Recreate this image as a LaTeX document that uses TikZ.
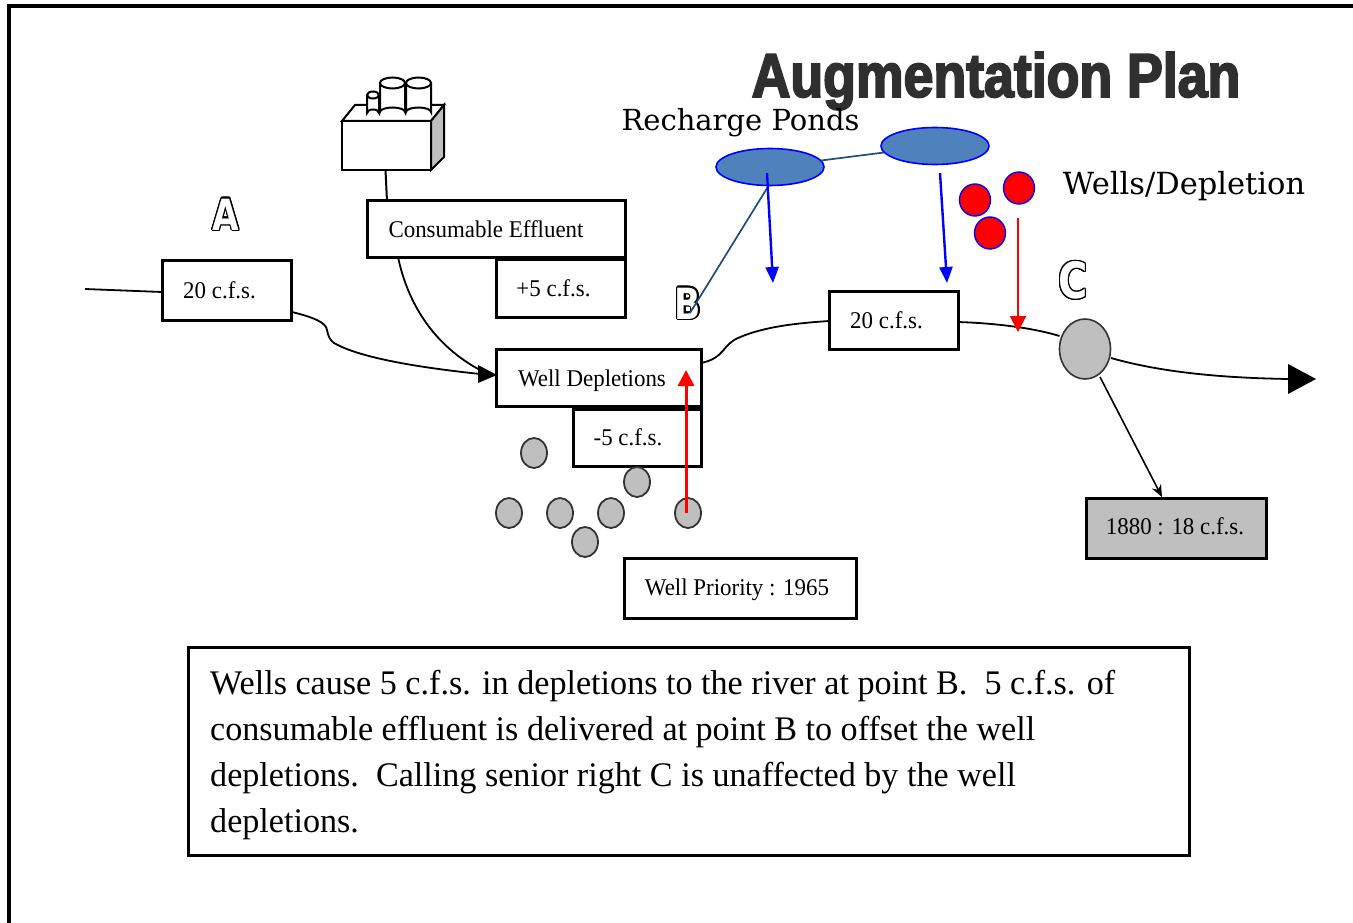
\documentclass[tikz,border=0pt]{standalone}
\usepackage{fontspec}
\usepackage[copies]{contour}
\setmainfont{Liberation Serif}
\newfontfamily\boxfont[FakeStretch=0.955]{Liberation Serif}
\newfontfamily\notefont[FakeStretch=0.989]{Liberation Serif}
\newfontfamily\titlefont[FakeBold=3,FakeStretch=0.865]{Liberation Sans Bold}
\newfontfamily\slabfont{DejaVu Serif}
\newfontfamily\markfont[FakeStretch=0.8]{DejaVu Sans Bold}
\usetikzlibrary{arrows.meta,shapes.geometric}
\definecolor{frameblack}{HTML}{000000}
\definecolor{wellgrey}{HTML}{BFBFBF}
\definecolor{pondblue}{HTML}{4F81BD}
\definecolor{linkblue}{HTML}{1F4E79}
\definecolor{titlegrey}{HTML}{2F2F2F}
\contourlength{1.2pt}
\tikzset{
  x=1pt,y=-1pt,
  box/.style={draw=black,line width=3pt,fill=white,inner sep=0pt,outer sep=0pt,font=\boxfont\fontsize{24}{28}\selectfont},
  gwell/.style={ellipse,draw=black!80,line width=1.8pt,fill=wellgrey,minimum width=26pt,minimum height=30pt,inner sep=0pt,outer sep=0pt},
  rwell/.style={ellipse,draw=blue,line width=1.4pt,fill=red,minimum width=31pt,minimum height=32pt,inner sep=0pt,outer sep=0pt},
  pond/.style={ellipse,draw=blue,line width=1.6pt,fill=pondblue,minimum width=108pt,minimum height=37pt,inner sep=0pt,outer sep=0pt},
  river/.style={draw=black,line width=1.8pt},
  blueflow/.style={draw=blue,line width=2.4pt,-{Triangle[length=16pt,width=13pt]}},
  redflow/.style={draw=red,line width=2.4pt,-{Triangle[length=16pt,width=16pt]}},
  link/.style={draw=linkblue,line width=1.7pt},
  letter/.style={inner sep=0pt,font=\markfont\fontsize{43}{46}\selectfont},
  slab/.style={inner sep=0pt,font=\slabfont\fontsize{29}{32}\selectfont},
  tank/.style={draw=black,line width=2pt,fill=white}
}
\begin{document}
\begin{tikzpicture}
\useasboundingbox (0,0) rectangle (1353,923);
% frame
\coordinate (fbl) at (8.5,923);
\coordinate (ftl) at (8.5,6);
\coordinate (ftr) at (1353,6);
\draw[frameblack,line width=4pt] (fbl) -- (ftl) -- (ftr);
% title
\node[inner sep=0pt,text=titlegrey,font=\titlefont\fontsize{62}{64}\selectfont] (title) at (996,81) {Augmentation Plan};
\node[slab] (recharge) at (740.5,123) {Recharge Ponds};
\node[slab,font=\slabfont\fontsize{30.5}{32}\selectfont] (wellslabel) at (1184,186) {Wells/Depletion};
% plant
\draw[line width=2pt,fill=white] (342,121) -- (355,105) -- (444,105) -- (431,121) -- cycle;
\draw[line width=2pt,fill=wellgrey] (431,121) -- (444,105) -- (444,157) -- (431,170) -- cycle;
\node[draw=black,line width=2pt,fill=white,minimum width=89pt,minimum height=49pt,inner sep=0pt,outer sep=0pt] (plant) at (386.5,145.5) {};
\draw[tank] (367,95) -- (367,113) arc[start angle=180,end angle=360,x radius=6,y radius=3.5] -- (379,95);
\draw[tank] (373,95) ellipse[x radius=6,y radius=3.5];
\draw[tank] (380,83) -- (380,112) arc[start angle=180,end angle=360,x radius=12.5,y radius=4.5] -- (405,83);
\draw[tank] (392.5,83) ellipse[x radius=12.5,y radius=5.5];
\draw[tank] (406,83) -- (406,112) arc[start angle=180,end angle=360,x radius=12.5,y radius=4.5] -- (431,83);
\draw[tank] (418.5,83) ellipse[x radius=12.5,y radius=5.5];
% boxes
\node[box,minimum width=129pt,minimum height=60pt] (boxA) at (226.5,290) {20 c.f.s.\hspace*{14pt}};
\node[box,minimum width=258pt,minimum height=56pt] (effluent) at (496,229) {Consumable Effluent\hspace*{20pt}};
\node[box,minimum width=129pt,minimum height=58pt] (plus) at (560.5,288) {+5 c.f.s.\hspace*{14pt}};
\node[box,text height=22pt,text depth=5pt,minimum width=205pt,minimum height=57pt] (depl) at (598.5,377.5) {Well Depletions\hspace*{13pt}};
\node[box,minimum width=128pt,minimum height=57pt] (minus) at (637,437.5) {-5 c.f.s.\hspace*{18pt}};
\node[box,minimum width=129pt,minimum height=58pt] (boxB) at (893.5,320) {20 c.f.s.\hspace*{14pt}};
\node[box,text height=20.5pt,text depth=5pt,minimum width=232pt,minimum height=60pt] (prio) at (740,588) {Well Priority : 1965\hspace*{6pt}};
\node[box,text height=16pt,text depth=3pt,fill=wellgrey,minimum width=180pt,minimum height=60pt] (senior) at (1176,528) {1880 : 18 c.f.s.\hspace*{2pt}};
\node[box,minimum width=1001pt,minimum height=208pt,anchor=north west] (note) at (188,647) {};
\node[inner sep=0pt,anchor=west,align=left,font=\notefont\fontsize{34.5}{45.8}\selectfont] (notetext) at (210,755) {Wells cause 5 c.f.s. in depletions to the river at point B.\ \ 5 c.f.s. of\\consumable effluent is delivered at point B to offset the well\\depletions.\ \ Calling senior right C is unaffected by the well\\depletions.};
% letters
\node[letter] (lA) at (226,215) {\contour{black}{\textcolor{white}{A}}};
\node[letter] (lB) at (688,304) {\contour{black}{\textcolor{white}{B}}};
\node[letter,font=\markfont\fontsize{50}{52}\selectfont] (lC) at (1073,281) {\contour{black}{\textcolor{white}{C}}};
% wells
\node[gwell] (g1) at (534,453) {};
\node[gwell] (g2) at (509,513) {};
\node[gwell] (g3) at (560,513) {};
\node[gwell] (g4) at (611,513) {};
\node[gwell] (g5) at (637,482) {};
\node[gwell] (g6) at (585,542) {};
\node[gwell] (g7) at (688,513) {};
% point C
\node[ellipse,draw=black!80,line width=1.6pt,fill=wellgrey,minimum width=51pt,minimum height=60pt,inner sep=0pt,outer sep=0pt] (pC) at (1085,349) {};
% ponds, red wells
\node[pond] (p1) at (770,167) {};
\node[pond] (p2) at (935,146) {};
\node[rwell] (r1) at (975,200) {};
\node[rwell] (r2) at (1019,188) {};
\node[rwell] (r3) at (990,233) {};
% river
\coordinate (start) at (85,289);
\coordinate (endA) at (1316,379);
\coordinate (bdrop) at (773,283);
\coordinate (cdrop) at (947,283);
\coordinate (rdrop) at (1018,332);
\coordinate (wup) at (686,370);
\coordinate (rstart) at (1018,218);
\coordinate (b1start) at (767,173);
\coordinate (b2start) at (940,173);
\coordinate (bmark) at (690,313);
\coordinate (deplw) at (490,375);
\draw[river] (start) -- (boxA.west |- 0,292);
\draw[river] (292,312) .. controls (312,317) and (326,322) .. (327,330) .. controls (328,336) and (330,340) .. (334,343) .. controls (360,358) and (420,368) .. (deplw);
\draw[river] (398,257) .. controls (405,290) and (425,345) .. (deplw);
\fill[black] (497,375) -- (478,365) -- (478,383) -- cycle;
\draw[line width=2pt] (plant.south) ++(-1,0) -- (387,201);
\draw[river] (depl.east |- 0,363) .. controls (725,358) and (722,345) .. (738,338) .. controls (765,326) and (800,323) .. (boxB.west |- 0,321);
\draw[river] (boxB.east |- 0,322) .. controls (990,323) and (1030,327) .. (pC.west |- 0,336);
\draw[river] (1111,358) .. controls (1160,372) and (1220,378) .. (1290,379);
\fill[black] (endA) -- (1288,364) -- (1288,394) -- cycle;
\draw[line width=1.6pt,-{Stealth[length=12pt,width=10pt]}] (1100,377) -- (1162,497);
% overlay
\draw[link] (p1) -- (p2);
\draw[link] (769,185) -- (bmark);
\draw[blueflow] (b1start) -- (bdrop);
\draw[blueflow] (b2start) -- (cdrop);
\draw[redflow,line width=2pt] (rstart) -- (rdrop);
\draw[redflow,line width=3pt] (g7.center) ++(-2,0) -- (wup);
\end{tikzpicture}
\end{document}
